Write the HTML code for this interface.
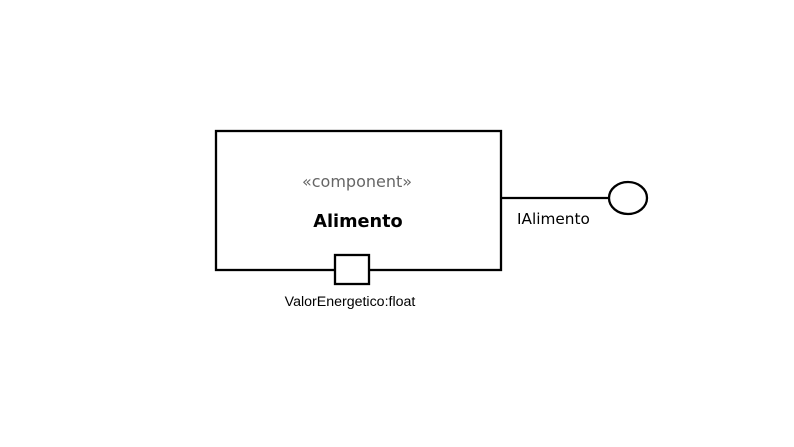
<!DOCTYPE html>
<html><head><style>html,body{margin:0;padding:0;background:#fff;width:794px;height:447px;overflow:hidden}</style></head>
<body>
<svg width="794" height="447" xmlns="http://www.w3.org/2000/svg">
<rect x="216" y="131" width="285" height="139" fill="#fff" stroke="#000" stroke-width="2.3"/>
<rect x="335" y="255" width="34" height="29" fill="#fff" stroke="#000" stroke-width="2.3"/>
<line x1="501" y1="198" x2="609" y2="198" stroke="#000" stroke-width="2.3"/>
<ellipse cx="628" cy="198" rx="19" ry="16" fill="#fff" stroke="#000" stroke-width="2.3"/>
<text x="357" y="187" text-anchor="middle" font-family="DejaVu Sans, sans-serif" font-size="16" fill="#666">«component»</text>
<text x="358" y="227" text-anchor="middle" font-family="DejaVu Sans, sans-serif" font-weight="bold" font-size="17.7" fill="#000">Alimento</text>
<text x="517" y="224" font-family="DejaVu Sans, sans-serif" font-size="15.3" fill="#000">IAlimento</text>
<text x="350" y="306" text-anchor="middle" font-family="Liberation Sans, sans-serif" font-size="14.2" fill="#000">ValorEnergetico:float</text>
</svg>
</body></html>
